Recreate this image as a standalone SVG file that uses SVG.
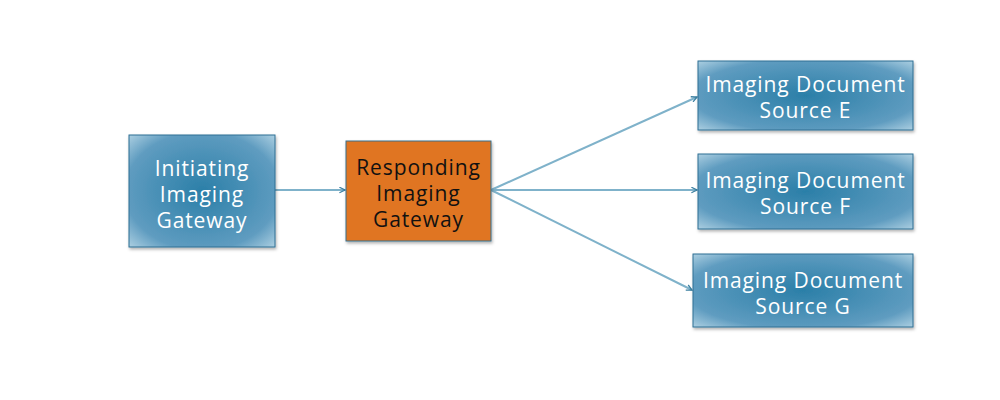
<svg xmlns="http://www.w3.org/2000/svg" width="1000" height="400" viewBox="0 0 1000 400">
<style>
.blue{fill:url(#bg);stroke:#2f6f93;stroke-width:1}
.orange{fill:#e07420;stroke:#3a6f8a;stroke-width:1}
.t{font-family:"Open Sans","Liberation Sans",sans-serif;font-size:21px;letter-spacing:0.9px;text-anchor:middle}
.w{fill:#ffffff}
.k{fill:#111111}
.c{stroke:#7fb2ca;stroke-width:2;fill:none;marker-end:url(#ah)}
</style>
<defs>
<radialGradient id="bg" cx="0.5" cy="0.5" r="0.7">
<stop offset="0" stop-color="#2b7fa8"/>
<stop offset="0.75" stop-color="#5f9cc0"/>
<stop offset="1" stop-color="#a9cde0"/>
</radialGradient>
<filter id="sh" x="-10%" y="-10%" width="130%" height="130%">
<feDropShadow dx="1" dy="2" stdDeviation="1.5" flood-color="#000" flood-opacity="0.3"/>
</filter>
<marker id="ah" viewBox="0 0 10 10" refX="9" refY="5" markerWidth="7" markerHeight="7" markerUnits="userSpaceOnUse" orient="auto">
<path d="M1,1 L9,5 L1,9" fill="none" stroke="#3b7fa0" stroke-width="1.8"/>
</marker>
</defs>
<g id="connectors">
<line class="c" x1="275" y1="190" x2="345" y2="190"/>
<line class="c" x1="491" y1="190" x2="697" y2="97"/>
<line class="c" x1="491" y1="190" x2="697" y2="190"/>
<line class="c" x1="491" y1="190" x2="692" y2="290"/>
</g>
<g id="initiating">
<rect class="blue" x="129" y="135" width="146" height="112" filter="url(#sh)"/>
<text class="t w" x="202" y="176">Initiating</text>
<text class="t w" x="202" y="202">Imaging</text>
<text class="t w" x="202" y="228">Gateway</text>
</g>
<g id="responding">
<rect class="orange" x="346" y="141" width="145" height="100" filter="url(#sh)"/>
<text class="t k" x="418.5" y="175">Responding</text>
<text class="t k" x="418.5" y="201">Imaging</text>
<text class="t k" x="418.5" y="227">Gateway</text>
</g>
<g id="sourceE">
<rect class="blue" x="698" y="61" width="215" height="69" filter="url(#sh)"/>
<text class="t w" x="805.5" y="92">Imaging Document</text>
<text class="t w" x="805.5" y="118">Source E</text>
</g>
<g id="sourceF">
<rect class="blue" x="698" y="154" width="215" height="75" filter="url(#sh)"/>
<text class="t w" x="805.5" y="188">Imaging Document</text>
<text class="t w" x="805.5" y="214">Source F</text>
</g>
<g id="sourceG">
<rect class="blue" x="693" y="254" width="220" height="73" filter="url(#sh)"/>
<text class="t w" x="803" y="288">Imaging Document</text>
<text class="t w" x="803" y="314">Source G</text>
</g>
</svg>
